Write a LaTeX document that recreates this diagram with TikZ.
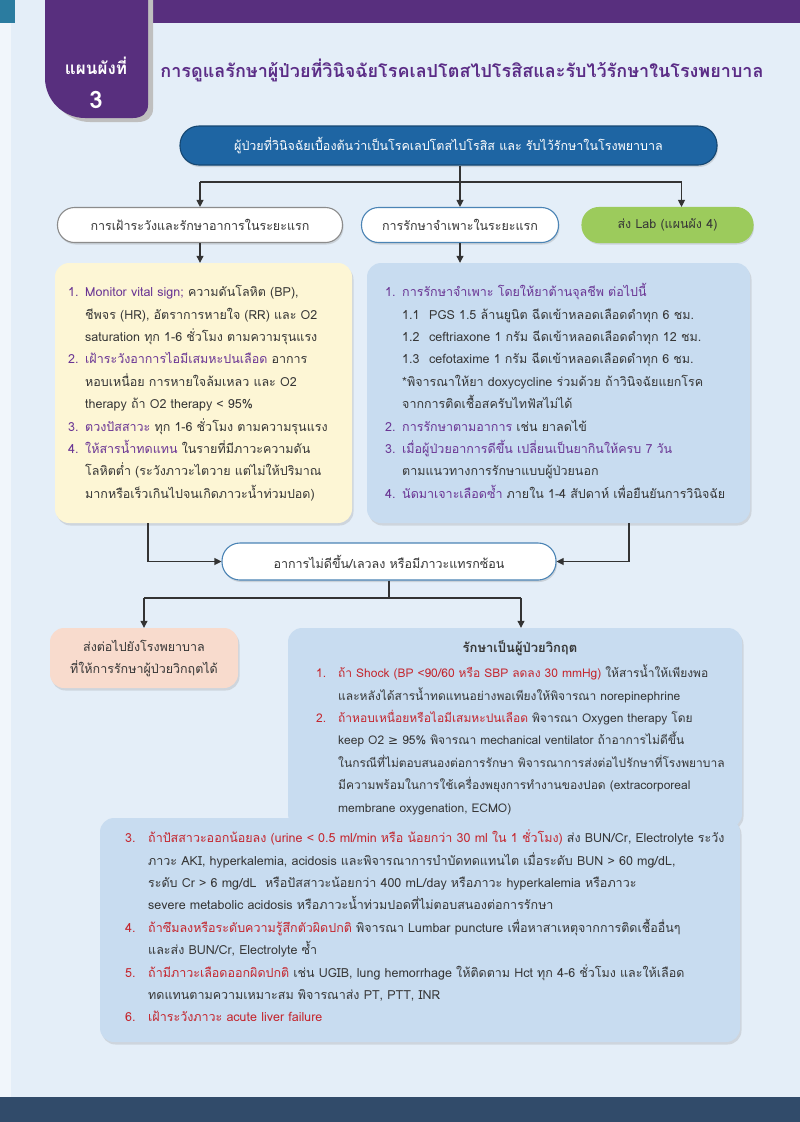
\documentclass[tikz,border=0pt]{standalone}
\usepackage{fontspec}
\setmainfont{Loma}[Script=Thai]
\newfontfamily\symfont{DejaVu Sans}
\usepackage{xcolor}
\usetikzlibrary{arrows.meta,positioning,shadows}

\definecolor{hdrpurple}{HTML}{582F7E}
\definecolor{titlepurple}{HTML}{5B2C86}
\definecolor{itempurple}{HTML}{6A3594}
\definecolor{itemred}{HTML}{C4262E}
\definecolor{txtgray}{HTML}{363636}
\definecolor{linegray}{HTML}{333333}
\definecolor{topblue}{HTML}{1E65A3}
\definecolor{labgreen}{HTML}{9CCB5C}
\definecolor{noteyellow}{HTML}{FDF6D5}
\definecolor{noteblue}{HTML}{C8DCF0}
\definecolor{notepink}{HTML}{F8DBCD}
\definecolor{pagebg}{HTML}{E4EEF8}
\definecolor{footblue}{HTML}{314B6A}
\definecolor{edgeteal}{HTML}{2B7CA0}

\newlength\numw
\colorlet{labclr}{itempurple}
\newcommand{\nl}{\hfil\break}
% numbered entry: number, coloured lead, rest of the item
\newcommand{\entry}[3]{\par\hangindent=\numw\hangafter=1\noindent
  \makebox[\numw][l]{\textcolor{labclr}{#1}}\textcolor{labclr}{#2}#3}

\begin{document}
\begin{tikzpicture}[x=1pt,y=-1pt,
  pill/.style={draw=#1, line width=1.1pt, fill=white, rounded corners=17pt, minimum height=35pt,
    inner sep=0pt, text=txtgray, font=\fontsize{12.5}{15}\selectfont,
    drop shadow={shadow xshift=1pt, shadow yshift=-2pt, opacity=0.25}},
  panel/.style={fill=#1, rounded corners=14pt, inner sep=0pt,
    drop shadow={shadow xshift=1.5pt, shadow yshift=-2.5pt, opacity=0.22}},
  listing/.style={anchor=north west, inner sep=0pt, text width=#1, align=left, text=txtgray,
    font=\fontsize{12.5}{22.4}\selectfont},
  purplelist/.style={execute at begin node={\colorlet{labclr}{itempurple}\setlength\numw{17pt}}},
  redlist/.style={execute at begin node={\colorlet{labclr}{itemred}\setlength\numw{22pt}}},
  arrow/.style={-{Triangle[length=7pt,width=7pt]}, draw=linegray, line width=1.1pt},
  wire/.style={draw=linegray, line width=1.1pt},
]
% page
\fill[pagebg] (0,0) rectangle (800,1122);
\fill[white, opacity=0.5] (0,23) rectangle (11,1097);
\fill[footblue] (0,1097) rectangle (800,1122);
\fill[hdrpurple] (148,0) rectangle (800,23);
\fill[edgeteal] (0,0) rectangle (15,23);

% tab
\fill[black!25] (50,0) -- (153,0) -- (153,109) .. controls (153,117) and (147,122) .. (138,122)
  -- (90,122) .. controls (68,122) and (50,104) .. (50,82) -- cycle;
\fill[hdrpurple] (45,0) -- (148,0) -- (148,105) .. controls (148,113) and (142,118) .. (133,118)
  -- (85,118) .. controls (63,118) and (45,100) .. (45,78) -- cycle;
\node[text=white, font=\fontsize{17}{20}\selectfont\bfseries] (tabname) at (96,66) {แผนผังที่};
\node[text=white, font=\fontsize{24}{26}\selectfont\bfseries] (tabnum) at (96,100) {3};
\node[text=titlepurple, font=\fontsize{18}{22}\selectfont\bfseries] (title) at (462,70)
  {การดูแลรักษาผู้ป่วยที่วินิจฉัยโรคเลปโตสไปโรสิสและรับไว้รักษาในโรงพยาบาล};

% first row
\node[pill=topblue!70!black, fill=topblue, text=white, minimum width=537pt, minimum height=39pt,
  rounded corners=19pt] (admit) at (448.5,145.5)
  {ผู้ป่วยที่วินิจฉัยเบื้องต้นว่าเป็นโรคเลปโตสไปโรสิส และ รับไว้รักษาในโรงพยาบาล};
\node[pill=black!45, minimum width=285pt] (watch) at (200,225) {การเฝ้าระวังและรักษาอาการในระยะแรก};
\node[pill=topblue!80, minimum width=197pt] (spec) at (460,225) {การรักษาจำเพาะในระยะแรก};
\node[pill=labgreen, fill=labgreen, minimum width=171pt] (lab) at (667.5,225) {ส่ง Lab (แผนผัง 4)};

\coordinate (split) at (0,182);
\draw[arrow] (admit.south -| spec.north) -- (spec.north);
\draw[wire] (watch.north |- split) -- ([xshift=14pt]lab.north |- split);
\draw[arrow] (watch.north |- split) -- (watch.north);
\draw[arrow] ([xshift=14pt]lab.north |- split) -- ([xshift=14pt]lab.north);

% early care panels
\node[panel=noteyellow, minimum width=297pt, minimum height=260pt] (care) at (203.5,393) {};
\node[panel=noteblue, minimum width=383pt, minimum height=260pt] (drug) at (558.5,393) {};
\draw[arrow] (watch.south) -- (watch.south |- care.north);
\draw[arrow] (spec.south) -- (spec.south |- drug.north);

\node[listing=300pt, purplelist] (caretext) at (68,274) {%
\entry{1.}{Monitor vital sign;}{ ความดันโลหิต (BP),\nl ชีพจร (HR), อัตราการหายใจ (RR) และ O2\nl saturation ทุก 1-6 ชั่วโมง ตามความรุนแรง}
\entry{2.}{เฝ้าระวังอาการไอมีเสมหะปนเลือด}{ อาการ\nl หอบเหนื่อย การหายใจล้มเหลว และ O2\nl therapy ถ้า O2 therapy < 95\%}
\entry{3.}{ตวงปัสสาวะ}{ ทุก 1-6 ชั่วโมง ตามความรุนแรง}
\entry{4.}{ให้สารน้ำทดแทน}{ ในรายที่มีภาวะความดัน\nl โลหิตต่ำ (ระวังภาวะไตวาย แต่ไม่ให้ปริมาณ\nl มากหรือเร็วเกินไปจนเกิดภาวะน้ำท่วมปอด)}\par};

\node[listing=380pt, purplelist] (drugtext) at (385,274) {%
\entry{1.}{การรักษาจำเพาะ โดยให้ยาต้านจุลชีพ ต่อไปนี้}{\nl
\makebox[27pt][l]{1.1}PGS 1.5 ล้านยูนิต ฉีดเข้าหลอดเลือดดำทุก 6 ชม.\nl
\makebox[27pt][l]{1.2}ceftriaxone 1 กรัม ฉีดเข้าหลอดเลือดดำทุก 12 ชม.\nl
\makebox[27pt][l]{1.3}cefotaxime 1 กรัม ฉีดเข้าหลอดเลือดดำทุก 6 ชม.\nl
*พิจารณาให้ยา doxycycline ร่วมด้วย ถ้าวินิจฉัยแยกโรค\nl
จากการติดเชื้อสครับไทฟัสไม่ได้}
\entry{2.}{การรักษาตามอาการ}{ เช่น ยาลดไข้}
\entry{3.}{เมื่อผู้ป่วยอาการดีขึ้น เปลี่ยนเป็นยากินให้ครบ 7 วัน}{\nl ตามแนวทางการรักษาแบบผู้ป่วยนอก}
\entry{4.}{นัดมาเจาะเลือดซ้ำ}{ ภายใน 1-4 สัปดาห์ เพื่อยืนยันการวินิจฉัย}\par};

% worsening
\node[pill=topblue!80, minimum width=334pt, minimum height=37pt, rounded corners=18pt] (worse) at (389,561.5)
  {อาการไม่ดีขึ้น/เลวลง หรือมีภาวะแทรกซ้อน};
\draw[arrow] ([xshift=-55.5pt]care.south) |- (worse.west);
\draw[arrow] ([xshift=70.5pt]drug.south) |- (worse.east);

\coordinate (split2) at (0,598);
\node[panel=notepink, minimum width=188pt, minimum height=60pt, align=center, text=txtgray,
  font=\fontsize{12.5}{22}\selectfont] (refer) at (144,658)
  {ส่งต่อไปยังโรงพยาบาล\\ที่ให้การรักษาผู้ป่วยวิกฤตได้};
\node[panel=noteblue, minimum width=454pt, minimum height=200pt] (crit) at (515,728) {};
\node[panel=noteblue, minimum width=640pt, minimum height=224pt] (critmore) at (420,930) {};
\draw[wire] (worse.south) -- (worse.south |- split2);
\draw[wire] (refer.north |- split2) -- ([xshift=6pt]crit.north |- split2);
\draw[arrow] (refer.north |- split2) -- (refer.north);
\draw[arrow] ([xshift=6pt]crit.north |- split2) -- ([xshift=6pt]crit.north);

\node[text=txtgray, font=\fontsize{13}{16}\selectfont\bfseries] (crittitle) at (520,648) {รักษาเป็นผู้ป่วยวิกฤต};
\node[listing=440pt, redlist, font=\fontsize{12}{22.4}\selectfont] (crittext) at (316,655) {%
\entry{1.}{ถ้า Shock (BP <90/60 หรือ SBP ลดลง 30 mmHg)}{ ให้สารน้ำให้เพียงพอ\nl และหลังได้สารน้ำทดแทนอย่างพอเพียงให้พิจารณา norepinephrine}
\entry{2.}{ถ้าหอบเหนื่อยหรือไอมีเสมหะปนเลือด}{ พิจารณา Oxygen therapy โดย\nl keep O2 {\symfont ≥} 95\% พิจารณา mechanical ventilator ถ้าอาการไม่ดีขึ้น\nl ในกรณีที่ไม่ตอบสนองต่อการรักษา พิจารณาการส่งต่อไปรักษาที่โรงพยาบาล\nl มีความพร้อมในการใช้เครื่องพยุงการทำงานของปอด (extracorporeal\nl membrane oxygenation, ECMO)}\par};

\node[listing=620pt, redlist, execute at begin node={\setlength\numw{23pt}}] (moretext) at (125,820) {%
\entry{3.}{ถ้าปัสสาวะออกน้อยลง (urine < 0.5 ml/min หรือ น้อยกว่า 30 ml ใน 1 ชั่วโมง)}{ ส่ง BUN/Cr, Electrolyte ระวัง\nl ภาวะ AKI, hyperkalemia, acidosis และพิจารณาการบำบัดทดแทนไต เมื่อระดับ BUN > 60 mg/dL,\nl ระดับ Cr > 6 mg/dL\ \ หรือปัสสาวะน้อยกว่า 400 mL/day หรือภาวะ hyperkalemia หรือภาวะ\nl severe metabolic acidosis หรือภาวะน้ำท่วมปอดที่ไม่ตอบสนองต่อการรักษา}
\entry{4.}{ถ้าซึมลงหรือระดับความรู้สึกตัวผิดปกติ}{ พิจารณา Lumbar puncture เพื่อหาสาเหตุจากการติดเชื้ออื่นๆ\nl และส่ง BUN/Cr, Electrolyte ซ้ำ}
\entry{5.}{ถ้ามีภาวะเลือดออกผิดปกติ}{ เช่น UGIB, lung hemorrhage ให้ติดตาม Hct ทุก 4-6 ชั่วโมง และให้เลือด\nl ทดแทนตามความเหมาะสม พิจารณาส่ง PT, PTT, INR}
\entry{6.}{เฝ้าระวังภาวะ acute liver failure}{}\par};
\end{tikzpicture}
\end{document}
